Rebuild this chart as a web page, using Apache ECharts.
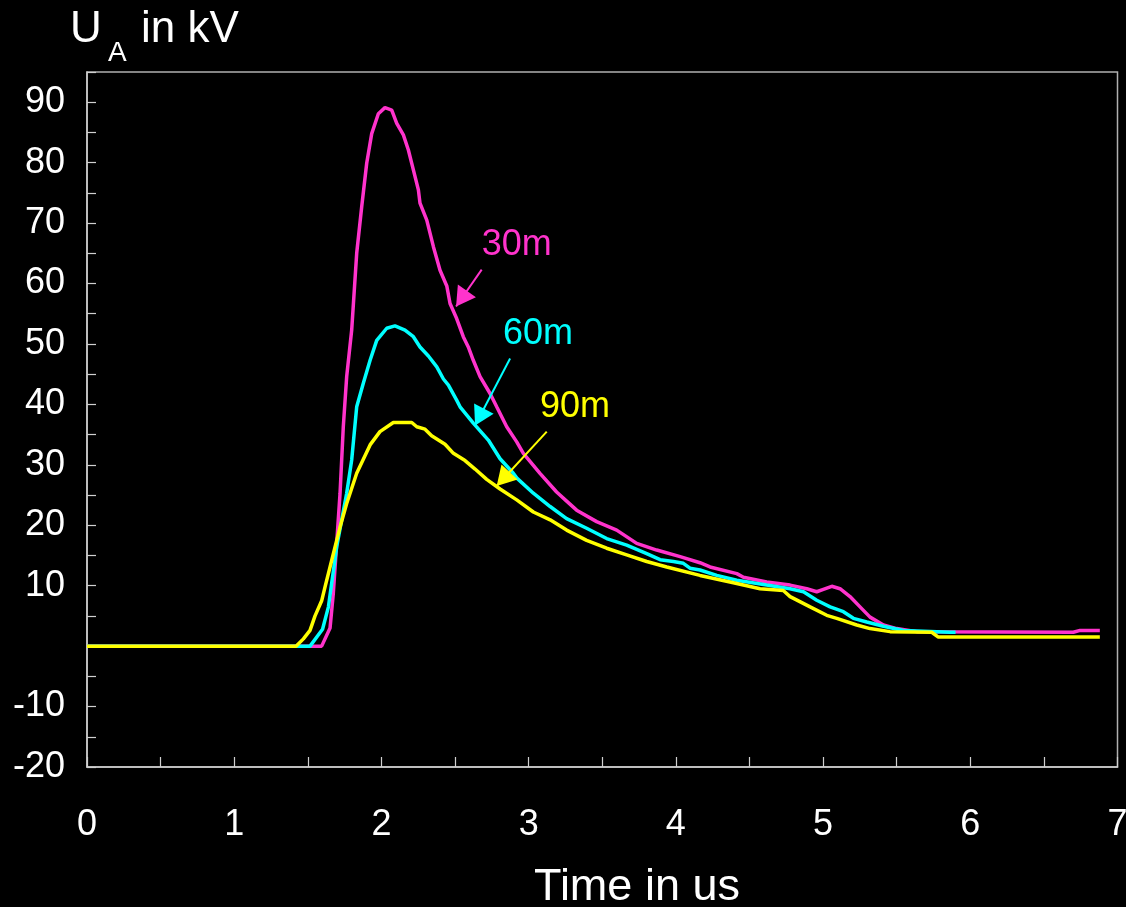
<!DOCTYPE html>
<html>
<head>
<meta charset="utf-8">
<script src="https://cdn.jsdelivr.net/npm/echarts@6/dist/echarts.min.js"></script>
<style>
  html, body { margin: 0; padding: 0; background: #000; }
  #chart { width: 1126px; height: 907px; }
</style>
</head>
<body>
<div id="chart"></div>
<script>
// Voltage at point A (kV) against time (us) for three cable lengths.
const time30 = [0, 1.594, 1.651, 1.673, 1.696, 1.719, 1.741, 1.764, 1.798, 1.832, 1.866, 1.9, 1.934, 1.979, 2.024, 2.07, 2.104, 2.149, 2.183, 2.217, 2.251, 2.262, 2.308, 2.353, 2.398, 2.444, 2.466, 2.511, 2.556, 2.59, 2.624, 2.67, 2.738, 2.783, 2.851, 2.919, 2.964, 3.077, 3.19, 3.258, 3.326, 3.462, 3.598, 3.734, 3.87, 4.029, 4.164, 4.232, 4.414, 4.459, 4.617, 4.776, 4.889, 4.957, 5.002, 5.059, 5.115, 5.183, 5.251, 5.319, 5.41, 5.5, 5.636, 6.7, 6.746, 6.88];
const volt30 = [0, 0, 3.0, 8.7, 17.0, 25.3, 36.3, 44.6, 52.3, 65.0, 72.7, 79.9, 84.8, 88.1, 89.1, 88.7, 86.5, 84.6, 82.1, 78.8, 75.5, 73.3, 70.5, 66.1, 62.2, 59.6, 56.7, 54.2, 51.2, 49.5, 47.3, 44.6, 41.8, 39.6, 36.3, 33.8, 31.9, 28.6, 25.5, 24.0, 22.5, 20.6, 19.2, 17.0, 15.9, 14.8, 13.8, 13.1, 12.0, 11.4, 10.6, 10.1, 9.5, 9.0, 9.4, 9.9, 9.5, 8.2, 6.5, 4.8, 3.5, 2.9, 2.4, 2.3, 2.6, 2.6];

const time60 = [0, 1.515, 1.6, 1.64, 1.662, 1.696, 1.73, 1.764, 1.798, 1.832, 1.877, 1.923, 1.968, 2.036, 2.092, 2.16, 2.217, 2.262, 2.319, 2.376, 2.421, 2.455, 2.511, 2.534, 2.624, 2.726, 2.806, 2.896, 2.92, 3.032, 3.146, 3.258, 3.394, 3.53, 3.666, 3.802, 3.893, 3.983, 4.051, 4.096, 4.164, 4.278, 4.414, 4.617, 4.776, 4.867, 4.957, 5.048, 5.138, 5.206, 5.297, 5.41, 5.546, 5.863, 5.9];
const volt60 = [0, 0, 2.8, 6.5, 10.4, 16.4, 20.9, 25.3, 30.8, 39.6, 43.5, 47.3, 50.6, 52.6, 53.0, 52.3, 51.2, 49.5, 48.0, 46.2, 44.2, 43.2, 40.7, 39.6, 36.9, 34.1, 31.0, 28.6, 27.8, 25.3, 23.1, 21.1, 19.5, 17.8, 16.7, 15.3, 14.3, 14.0, 13.7, 12.9, 12.6, 11.7, 10.9, 10.1, 9.5, 9.0, 7.6, 6.5, 5.7, 4.6, 4.0, 3.3, 2.6, 2.3, 2.3];

const time90 = [0, 1.42, 1.47, 1.515, 1.549, 1.594, 1.617, 1.651, 1.685, 1.719, 1.764, 1.832, 1.923, 1.99, 2.081, 2.206, 2.24, 2.296, 2.341, 2.432, 2.489, 2.568, 2.636, 2.715, 2.806, 2.919, 3.032, 3.146, 3.258, 3.394, 3.53, 3.666, 3.802, 3.938, 4.164, 4.391, 4.572, 4.73, 4.776, 4.912, 5.025, 5.093, 5.229, 5.319, 5.455, 5.738, 5.783, 6.88];
const volt90 = [0, 0, 1.2, 2.6, 5.0, 7.5, 9.8, 13.1, 16.4, 19.7, 23.6, 28.6, 33.3, 35.5, 37.0, 37.0, 36.3, 35.9, 34.8, 33.4, 31.9, 30.7, 29.3, 27.6, 26.0, 24.2, 22.2, 20.9, 19.2, 17.5, 16.2, 15.1, 14.0, 13.1, 11.7, 10.5, 9.5, 9.2, 8.2, 6.5, 5.1, 4.6, 3.5, 2.9, 2.4, 2.3, 1.5, 1.5];

const seriesNames = ['30m', '60m', '90m'];
const xTickLabels = [0, 1, 2, 3, 4, 5, 6, 7];
const yTickLabels = [-20, -10, 10, 20, 30, 40, 50, 60, 70, 80, 90];

// Callout arrows: label anchor (left, baseline), arrow tail and arrow tip in (us, kV).
const calloutText = [[2.681, 64.3], [2.826, 49.6], [3.077, 37.5]];
const calloutTail = [[2.681, 62.3], [2.874, 47.6], [3.123, 35.5]];
const calloutTip = [[2.507, 56.2], [2.636, 36.5], [2.783, 26.5]];

const colors = ['#ff33cc', '#00ffff', '#ffff00'];
const FONT = '"Liberation Sans", Arial, sans-serif';

function pairs(ts, vs) { return ts.map((t, i) => [t, vs[i]]); }
const seriesData = [pairs(time30, volt30), pairs(time60, volt60), pairs(time90, volt90)];

const chart = echarts.init(document.getElementById('chart'), null, { renderer: 'canvas' });

const axisColor = '#d0d0d0';

const option = {
  backgroundColor: '#000',
  animation: false,
  grid: {
    left: 87, right: 8.5, top: 72, bottom: 140,
    containLabel: false,
    outerBoundsMode: 'none',
    show: true,
    borderColor: '#b0b0b0',
    borderWidth: 1.5
  },
  xAxis: {
    type: 'value', min: 0, max: 7, interval: 0.5,
    axisLine: { show: true, onZero: false, lineStyle: { color: axisColor, width: 1.5 } },
    axisTick: { show: true, inside: true, length: 10, lineStyle: { color: axisColor, width: 1.2 } },
    splitLine: { show: false },
    axisLabel: {
      color: '#fff', fontFamily: FONT, fontSize: 36, margin: 40,
      showMaxLabel: true, hideOverlap: false,
      formatter: v => (xTickLabels.indexOf(v) >= 0 ? String(v) : '')
    }
  },
  yAxis: {
    type: 'value', min: -20, max: 95, interval: 5,
    axisLine: { show: true, onZero: false, lineStyle: { color: axisColor, width: 1.5 } },
    axisTick: { show: true, inside: true, length: 9, lineStyle: { color: axisColor, width: 1.2 } },
    splitLine: { show: false },
    axisLabel: {
      color: '#fff', fontFamily: FONT, fontSize: 36, margin: 22,
      padding: [14, 0, 0, 0], hideOverlap: false,
      formatter: v => (yTickLabels.indexOf(v) >= 0 ? String(v) : '')
    }
  },
  series: seriesNames.map((name, i) => ({
    name: name,
    type: 'line',
    data: seriesData[i],
    showSymbol: false,
    symbol: 'none',
    lineStyle: { color: colors[i], width: 3.5 },
    itemStyle: { color: colors[i] },
    z: 2 + i,
    markLine: {
      silent: true,
      animation: false,
      symbol: ['none', 'triangle'],
      symbolSize: [22, 19],
      symbolOffset: [0, [0, 9.5]],
      lineStyle: { color: colors[i], width: 2, type: 'solid' },
      label: { show: false },
      data: [[{ coord: calloutTail[i] }, { coord: calloutTip[i] }]]
    }
  }))
};

chart.setOption(option);

// Axis titles and callout labels.
const graphics = [
  { type: 'text', x: 70, y: 30, style: { text: 'U', fill: '#fff', font: '44px ' + FONT, verticalAlign: 'middle', align: 'left' } },
  { type: 'text', x: 108, y: 53, style: { text: 'A', fill: '#fff', font: '28px ' + FONT, verticalAlign: 'middle', align: 'left' } },
  { type: 'text', x: 141, y: 30, style: { text: 'in kV', fill: '#fff', font: '44px ' + FONT, verticalAlign: 'middle', align: 'left' } },
  { type: 'text', x: 637, y: 888, style: { text: 'Time in us', fill: '#fff', font: '45px ' + FONT, verticalAlign: 'middle', align: 'center' } }
];
seriesNames.forEach((name, i) => {
  const p = chart.convertToPixel({ gridIndex: 0 }, calloutText[i]);
  graphics.push({
    type: 'text', x: p[0], y: p[1] - 12.5,
    style: { text: name, fill: colors[i], font: '36px ' + FONT, verticalAlign: 'middle', align: 'left' }
  });
});
chart.setOption({ graphic: graphics });
</script>
</body>
</html>
